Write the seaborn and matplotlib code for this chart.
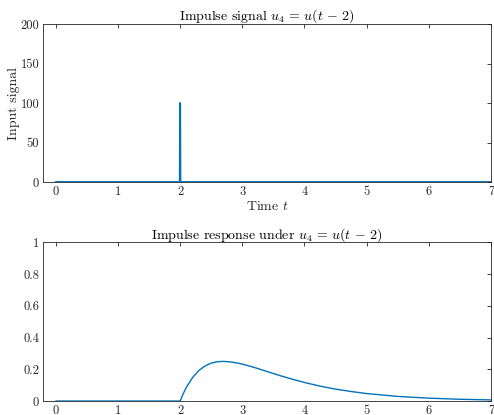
import numpy as np
import pandas as pd
import matplotlib
matplotlib.use("Agg")
import matplotlib.pyplot as plt
import seaborn as sns
from matplotlib.ticker import FuncFormatter

# Input: unit impulse at t = 2 (height 1/dt with dt = 0.01)
u_t = [0.0, 1.995, 2.0, 2.005, 7.0]
u_val = [0.0, 0.0, 100.0, 0.0, 0.0]

# System response to the delayed impulse
y_t = [0.0, 1.0, 2.0, 2.05, 2.1, 2.2, 2.3, 2.4, 2.5, 2.6, 2.7, 2.8, 2.9, 3.0,
       3.2, 3.4, 3.6, 3.8, 4.0, 4.25, 4.5, 4.75, 5.0, 5.5, 6.0, 6.5, 7.0]
y_val = [0.0, 0.0, 0.0, 0.046, 0.086, 0.148, 0.192, 0.221, 0.239, 0.248,
         0.250, 0.247, 0.241, 0.233, 0.211, 0.186, 0.161, 0.138, 0.117,
         0.094, 0.075, 0.060, 0.047, 0.029, 0.018, 0.011, 0.007]

x_ticks = [0, 1, 2, 3, 4, 5, 6, 7]
u_ticks = [0, 50, 100, 150, 200]
y_ticks = [0, 0.2, 0.4, 0.6, 0.8, 1]

sns.set_style("white")
plt.rcParams["font.family"] = "serif"
plt.rcParams["font.serif"] = ["cmr10"]
plt.rcParams["mathtext.fontset"] = "cm"
plt.rcParams["axes.formatter.use_mathtext"] = True

line_color = "#0072BD"
axis_color = "#262626"

fig = plt.figure(figsize=(4.94, 4.15), dpi=100)
ax1 = fig.add_axes([0.0877, 0.5614, 0.9062, 0.3807])
ax2 = fig.add_axes([0.0877, 0.0337, 0.9062, 0.3820])

df_u = pd.DataFrame({"t": u_t, "u": u_val})
df_y = pd.DataFrame({"t": y_t, "y": y_val})

sns.lineplot(data=df_u, x="t", y="u", ax=ax1, color=line_color, linewidth=1.4)
sns.lineplot(data=df_y, x="t", y="y", ax=ax2, color=line_color, linewidth=1.0)

fmt = FuncFormatter(lambda v, p: f"{v:g}")
for ax, yt in ((ax1, u_ticks), (ax2, y_ticks)):
    ax.set_xlim(-0.2, 7)
    ax.set_ylim(yt[0], yt[-1])
    ax.set_xticks(x_ticks)
    ax.set_yticks(yt)
    ax.xaxis.set_major_formatter(fmt)
    ax.yaxis.set_major_formatter(fmt)
    ax.tick_params(direction="in", length=3, width=0.6, top=True, right=True,
                   labelsize=9, colors=axis_color, pad=3)
    for s in ax.spines.values():
        s.set_visible(True)
        s.set_color(axis_color)
        s.set_linewidth(0.6)
    ax.set_xlabel("")
    ax.set_ylabel("")

ax1.set_title(r"Impulse signal $u_4\,=\,u(t\,-\,2)$", fontsize=10, color="black", pad=3)
ax1.set_xlabel(r"Time $t$", fontsize=10, labelpad=1)
ax1.set_ylabel("Input signal", fontsize=10, labelpad=0)
ax2.set_title(r"Impulse response under $u_4\,=\,u(t\,-\,2)$", fontsize=10, color="black", pad=3)

fig.savefig("out.png", dpi=100)
